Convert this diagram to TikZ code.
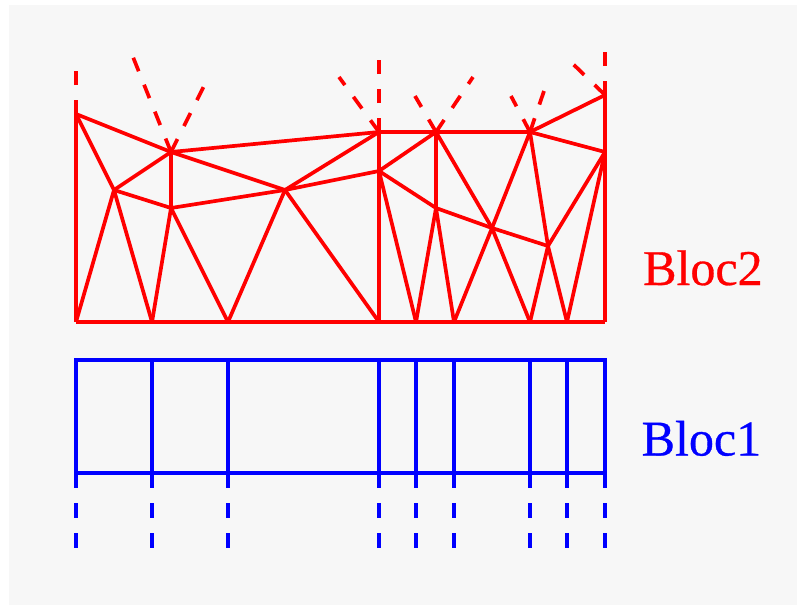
\documentclass[tikz,border=0pt]{standalone}
\usepackage{fontspec}
\setmainfont[FakeBold=0.6]{Liberation Serif}
\definecolor{panel}{HTML}{F7F7F7}
\begin{document}
\begin{tikzpicture}[x=1pt,y=-1pt,
  mesh/.style={draw=red,line width=3.7pt,line cap=butt,line join=round},
  grid/.style={draw=blue,line width=3.7pt,line cap=butt},
  rayred/.style={draw=red,line width=3.7pt,dash pattern=on 14.5pt off 14.5pt},
  rayblue/.style={draw=blue,line width=3.7pt,dash pattern=on 15pt off 15pt},
  lab/.style={anchor=base west,inner sep=0pt,font=\fontsize{50pt}{50pt}\selectfont}]
\useasboundingbox (0,0) rectangle (797,608);
\fill[white] (0,0) rectangle (797,608);
\fill[panel] (9,5) rectangle (797,605);
% Bloc2 vertices
\foreach \n/\x/\y in {A/76/114,B/114/190,C/171/152,D/171/208,E/285/190,F/379/132,G/379/171,
  H/436/132,I/436/208,J/530/132,K/492/228,L/548/246,M/605/95,N/605/152,
  r0/76/322,r1/152/322,r2/228/322,r3/379/322,r4/416/322,r5/454/322,r6/530/322,r7/567/322,r8/605/322,
  ra/76/70,rb/133/57,rc/204/86,rd/379/59,re/339/77,rf/415/96,rg/473/77,rh/511/96,ri/544/91,rj/573/64,rk/605/52,
  b0/76/360,b1/152/360,b2/228/360,b3/379/360,b4/416/360,b5/454/360,b6/530/360,b7/567/360,b8/605/360,
  c0/76/473,c1/152/473,c2/228/473,c3/379/473,c4/416/473,c5/454/473,c6/530/473,c7/567/473,c8/605/473,
  d0/76/548,d1/152/548,d2/228/548,d3/379/548,d4/416/548,d5/454/548,d6/530/548,d7/567/548,d8/605/548}
  {\coordinate (\n) at (\x,\y);}
% Bloc2 mesh
\draw[mesh] (r0) -- (r8);
\draw[mesh] (A) -- (r0);
\draw[mesh] (G) -- (r3);
\draw[mesh] (N) -- (r8);
\foreach \p/\q in {A/B,A/C,B/C,B/D,C/D,C/F,C/E,D/E,E/F,E/G,G/F,G/H,F/H,H/J,J/M,J/N,H/I,G/I,I/K,K/L,L/N,H/K,J/K,J/L,M/N,
  B/r0,B/r1,D/r1,D/r2,E/r2,E/r3,G/r4,I/r4,I/r5,K/r5,K/r6,L/r6,L/r7,N/r7}
  {\draw[mesh] (\p) -- (\q);}
% Bloc2 dashed rays
\foreach \p/\q in {A/ra,C/rb,C/rc,F/rd,F/re,H/rf,H/rg,J/rh,J/ri,M/rj,M/rk}
  {\draw[rayred] (\p) -- (\q);}
% Bloc1 grid
\draw[grid] (b0) rectangle (c8);
\foreach \p/\q in {b1/c1,b2/c2,b3/c3,b4/c4,b5/c5,b6/c6,b7/c7}
  {\draw[grid] (\p) -- (\q);}
\foreach \p/\q in {c0/d0,c1/d1,c2/d2,c3/d3,c4/d4,c5/d5,c6/d6,c7/d7,c8/d8}
  {\draw[rayblue] (\p) -- (\q);}
\node[lab,text=red] (lab2) at (643,285) {Bloc2};
\node[lab,text=blue] (lab1) at (641.5,455.5) {Bloc1};
\end{tikzpicture}
\end{document}
